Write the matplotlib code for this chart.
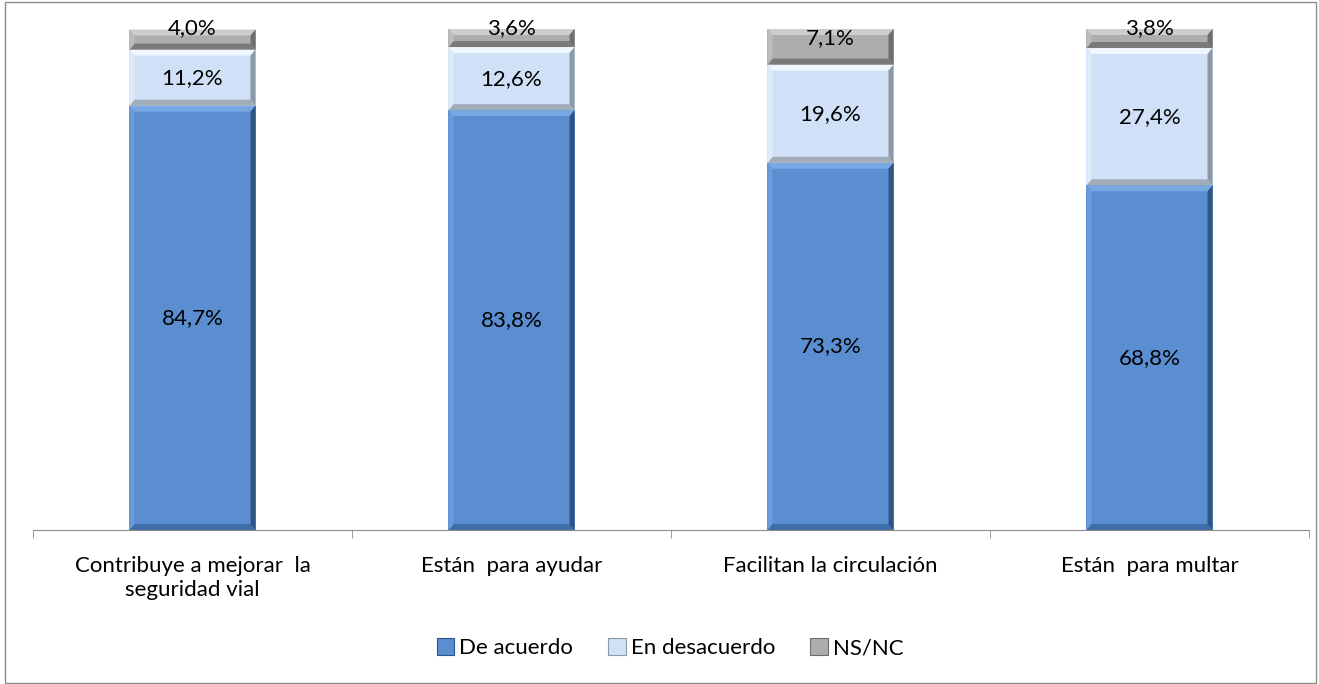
import matplotlib
matplotlib.use("Agg")
import matplotlib.pyplot as plt
from matplotlib.patches import Polygon, Rectangle
import numpy as np

categories = ["Contribuye a mejorar  la\nseguridad vial", "Están  para ayudar",
              "Facilitan la circulación", "Están  para multar"]
series_names = ["De acuerdo", "En desacuerdo", "NS/NC"]
de_acuerdo = [84.7, 83.8, 73.3, 68.8]
en_desacuerdo = [11.2, 12.6, 19.6, 27.4]
ns_nc = [4.0, 3.6, 7.1, 3.8]

base_cols = ["#5A8ED0", "#D0E1F7", "#ADADAD"]
top_cols = ["#78A8E4", "#F0F6FD", "#CDCDCD"]
left_cols = ["#6A9BDA", "#DFEAF9", "#BCBCBC"]
right_cols = ["#2E5586", "#8E99A8", "#6E6E6E"]
bot_cols = ["#3F6DA6", "#A2ABB8", "#7A7A7A"]

plt.rcParams['font.family'] = ['Lato', 'DejaVu Sans']
FS = 16

W, H = 1319, 684
fig = plt.figure(figsize=(W / 100, H / 100), dpi=100)
fig.patches.append(Rectangle((5 / W, 1 / H), 1311 / W, 681 / H, transform=fig.transFigure,
                             fill=False, edgecolor="#8C8C8C", linewidth=1.0))

ax_l, ax_r, ax_t, ax_b = 33, 1309, 29, 530
ax = fig.add_axes([ax_l / W, 1 - ax_b / H, (ax_r - ax_l) / W, (ax_b - ax_t) / H])
x = np.arange(len(categories))
ax.set_xlim(-0.5, len(categories) - 0.5)
ax.set_ylim(0, 100)
width = 0.395

px_x = (len(categories)) / (ax_r - ax_l)
px_y = 100 / (ax_b - ax_t)

def bevel_bar(xc, y0, h, k):
    x0, x1 = xc - width / 2, xc + width / 2
    y1 = y0 + h
    bx = 5 * px_x
    by = min(6 * px_y, h / 2.5)
    ax.add_patch(Rectangle((x0, y0), x1 - x0, h, facecolor=base_cols[k], edgecolor="none", zorder=2))
    ax.add_patch(Polygon([(x0, y1), (x1, y1), (x1 - bx, y1 - by), (x0 + bx, y1 - by)],
                         closed=True, facecolor=top_cols[k], edgecolor="none", zorder=3))
    ax.add_patch(Polygon([(x0, y0), (x1, y0), (x1 - bx, y0 + by), (x0 + bx, y0 + by)],
                         closed=True, facecolor=bot_cols[k], edgecolor="none", zorder=3))
    ax.add_patch(Polygon([(x0, y0), (x0 + bx, y0 + by), (x0 + bx, y1 - by), (x0, y1)],
                         closed=True, facecolor=left_cols[k], edgecolor="none", zorder=3))
    ax.add_patch(Polygon([(x1, y0), (x1 - bx, y0 + by), (x1 - bx, y1 - by), (x1, y1)],
                         closed=True, facecolor=right_cols[k], edgecolor="none", zorder=3))

series = [de_acuerdo, en_desacuerdo, ns_nc]
bottoms = np.zeros(len(categories))
for k, vals in enumerate(series):
    for i, v in enumerate(vals):
        bevel_bar(x[i], bottoms[i], v, k)
        ylab = bottoms[i] + v / 2
        if k == len(series) - 1:
            ylab = bottoms[i] + v + 0.2 - 2.0 * (v > 5)
        ax.text(x[i], ylab, f"{v:.1f}%".replace(".", ","), ha="center", va="center",
                fontsize=FS, color="black", zorder=5, clip_on=False)
    bottoms += np.array(vals)

for s in ["top", "right", "left"]:
    ax.spines[s].set_visible(False)
ax.spines["bottom"].set_color("#8C8C8C")
ax.set_yticks([])
ax.set_xticks(x)
ax.set_xticklabels(categories, fontsize=FS, linespacing=1.25)
ax.tick_params(axis="x", which="major", length=0, pad=19)
ax.set_xticks(np.arange(-0.5, len(categories), 1.0), minor=True)
ax.tick_params(axis="x", which="minor", length=6, color="#8C8C8C")

handles = [Rectangle((0, 0), 1, 1, facecolor=base_cols[k], edgecolor=right_cols[k], linewidth=0.8)
           for k in range(3)]
fig.legend(handles, series_names, loc="center", bbox_to_anchor=(670 / W, 1 - 648 / H), ncol=3,
           frameon=False, fontsize=FS, handlelength=0.8, handleheight=0.8, handletextpad=0.2,
           columnspacing=1.6)

fig.savefig("out.png", dpi=100)
